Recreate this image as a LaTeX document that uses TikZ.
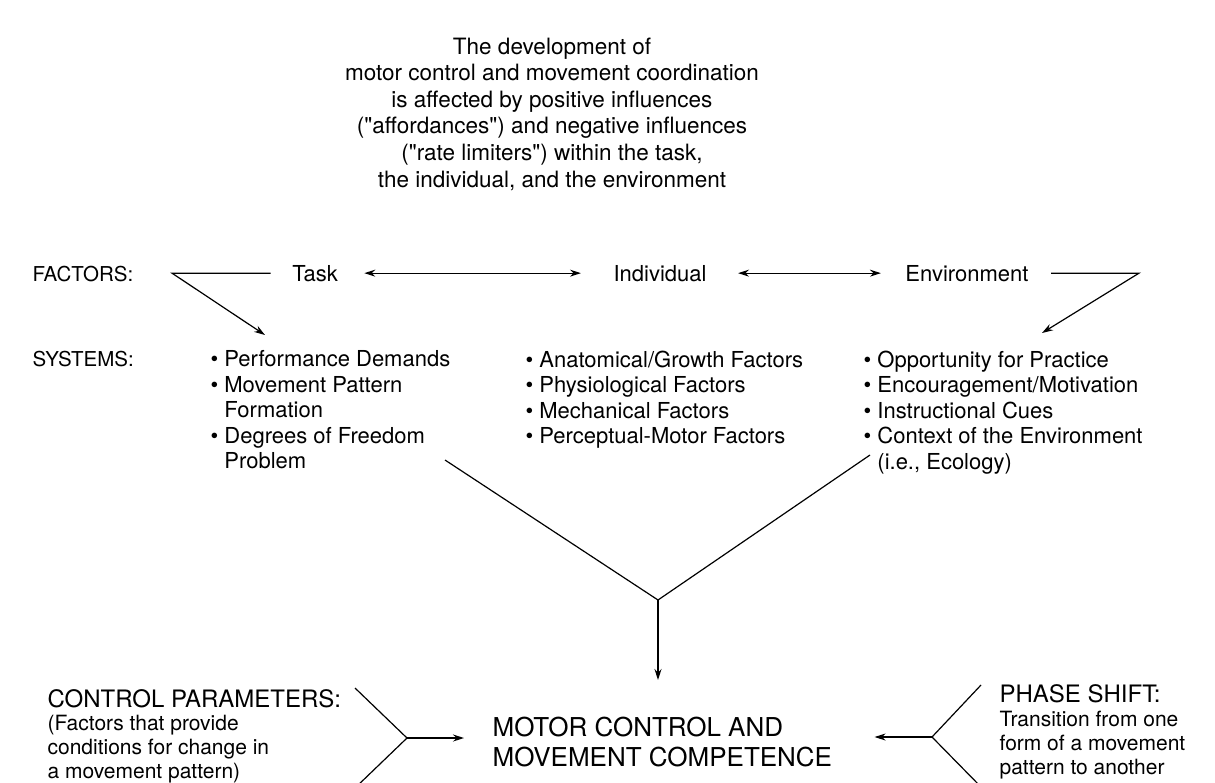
\documentclass[tikz,border=0pt]{standalone}
\usepackage{fontspec}
\setmainfont{TeX Gyre Heros}[Ligatures=TeXOff]
\usetikzlibrary{arrows.meta}

\begin{document}
\begin{tikzpicture}[x=1pt, y=-1pt, line width=1.2pt, >={Stealth[length=11pt, width=7pt]},
  every node/.style={inner sep=0pt},
  intro/.style={align=center, font=\fontsize{22.5}{26.6}\selectfont},
  tag/.style={font=\fontsize{20.5}{24}\selectfont},
  factor/.style={font=\fontsize{22}{26}\selectfont},
  items/.style={align=left, font=\fontsize{22}{25.5}\selectfont},
  head/.style={font=\fontsize{24}{28}\selectfont},
  note/.style={align=left, font=\fontsize{21}{24}\selectfont},
  goal/.style={align=left, font=\fontsize{26}{30}\selectfont}]
  \useasboundingbox (0,0) rectangle (1215,782);

  \node[intro, anchor=north] (intro) at (552,37) {The development of\\motor control and movement coordination\\is affected by positive influences\\("affordances") and negative influences\\("rate limiters") within the task,\\the individual, and the environment};

  \node[tag, anchor=base west] (factors) at (32,281) {FACTORS:};
  \node[factor, anchor=base] (task) at (315,281) {Task};
  \node[factor, anchor=base] (indiv) at (660,281) {Individual};
  \node[factor, anchor=base] (env) at (967,281) {Environment};

  \node[tag, anchor=base west] (systems) at (32,366) {SYSTEMS:};
  \node[items, anchor=north west] (tasklist) at (210,350) {• Performance Demands\\• Movement Pattern\\\phantom{• }Formation\\• Degrees of Freedom\\\phantom{• }Problem};
  \node[items, anchor=north west] (indivlist) at (525,350) {• Anatomical/Growth Factors\\• Physiological Factors\\• Mechanical Factors\\• Perceptual-Motor Factors};
  \node[items, anchor=north west] (envlist) at (863,350) {• Opportunity for Practice\\• Encouragement/Motivation\\• Instructional Cues\\• Context of the Environment\\\phantom{• }(i.e., Ecology)};

  \node[goal, anchor=north west] (goal) at (492,716) {MOTOR CONTROL AND\\MOVEMENT COMPETENCE};
  \node[head, anchor=base west] (params) at (47,707) {CONTROL PARAMETERS:};
  \node[note, anchor=north west] (paramsnote) at (47,715) {(Factors that provide\\conditions for change in\\a movement pattern)};
  \node[head, anchor=base west] (phase) at (999,702) {PHASE SHIFT:};
  \node[note, anchor=north west] (phasenote) at (999,711) {Transition from one\\form of a movement\\pattern to another};

  \coordinate (lcorner) at (172,0 |- task.west);
  \coordinate (ltip) at (265,335);
  \coordinate (rcorner) at (1139,0 |- env.east);
  \coordinate (rtip) at (1042,333);
  \coordinate (vleft) at (445,460);
  \coordinate (vright) at (870,455);
  \coordinate (vapex) at (658,600);
  \coordinate (vtip) at (658,680);
  \coordinate (ltop) at (355,688);
  \coordinate (lapex) at (407,738);
  \coordinate (lbot) at (355,788);
  \coordinate (rtop) at (981,685);
  \coordinate (rapex) at (932,737);
  \coordinate (rbot) at (983,789);

  \draw[->, shorten <=21pt] (task.west) -- (lcorner) -- (ltip);
  \draw[<->, shorten <=26pt, shorten >=32pt] (task.east) -- (indiv.west);
  \draw[<->, shorten <=31pt, shorten >=24pt] (indiv.east) -- (env.west);
  \draw[->, shorten <=22pt] (env.east) -- (rcorner) -- (rtip);

  \draw (vleft) -- (vapex) -- (vright);
  \draw[->] (vapex) -- (vtip);

  \draw (ltop) -- (lapex) -- (lbot);
  \draw[->, shorten >=28pt] (lapex) -- (lapex -| goal.west);
  \draw (rtop) -- (rapex) -- (rbot);
  \draw[->, shorten >=42pt] (rapex) -- (rapex -| goal.east);
\end{tikzpicture}
\end{document}
